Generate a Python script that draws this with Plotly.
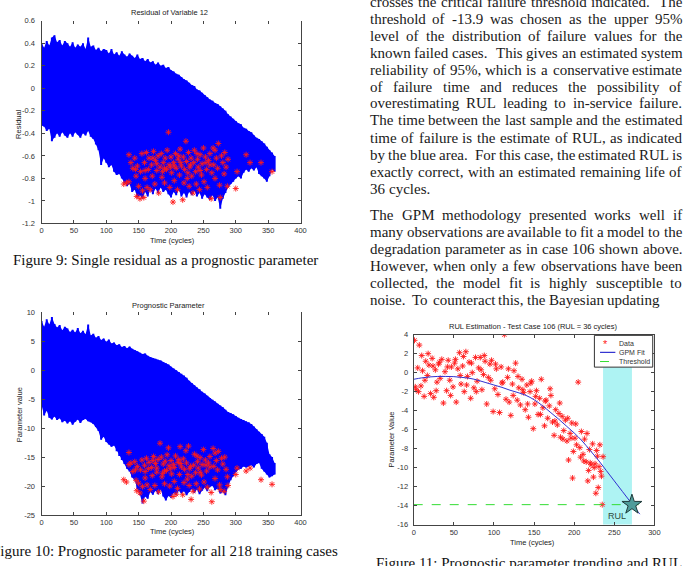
import re
import plotly.graph_objects as go

W, H = 695, 566


def px(x):
    return x / W


def py(y):
    return 1 - y / H


# ---------------- data: Figure 9 / Figure 10 (218 training cases) ----------------
env_cycles = [0, 4, 8, 12, 16, 20, 24, 28, 32, 36, 40, 44, 48, 52, 56, 60, 64, 68, 72, 76,
              80, 84, 88, 92, 96, 100, 104, 108, 112, 116, 120, 124, 128, 132, 136, 140, 144, 148, 152, 156,
              160, 164, 168, 172, 176, 180, 184, 188, 192, 196, 200, 204, 208, 212, 216, 220, 224, 228, 232, 236,
              240, 244, 248, 252, 256, 260, 264, 268, 272, 276, 280, 284, 288, 292, 296, 300, 304, 308, 312, 316,
              320, 324, 328, 332, 336, 340, 344, 348, 352, 356, 360]

residual_upper = [0.40, 0.36, 0.42, 0.38, 0.45, 0.47, 0.41, 0.43, 0.38, 0.42, 0.40, 0.37, 0.41, 0.36, 0.39, 0.37, 0.40, 0.35, 0.45, 0.37,
                  0.38, 0.34, 0.36, 0.33, 0.35, 0.34, 0.31, 0.35, 0.30, 0.32, 0.29, 0.33, 0.30, 0.28, 0.31, 0.29, 0.27, 0.30, 0.26, 0.27,
                  0.24, 0.26, 0.23, 0.24, 0.21, 0.23, 0.20, 0.21, 0.18, 0.19, 0.16, 0.15, 0.13, 0.12, 0.10, 0.08, 0.07, 0.05, 0.03, 0.02,
                  -0.01, -0.02, -0.04, -0.06, -0.08, -0.10, -0.11, -0.13, -0.14, -0.16, -0.18, -0.20, -0.23, -0.25, -0.27, -0.29, -0.31, -0.32, -0.35, -0.36,
                  -0.38, -0.39, -0.42, -0.44, -0.45, -0.47, -0.49, -0.52, -0.55, -0.57, -0.60]
residual_lower = [-0.33, -0.34, -0.38, -0.36, -0.47, -0.44, -0.40, -0.43, -0.39, -0.42, -0.44, -0.40, -0.43, -0.39, -0.41, -0.44, -0.40, -0.42, -0.38, -0.43,
                  -0.45, -0.50, -0.55, -0.68, -0.62, -0.66, -0.70, -0.68, -0.74, -0.77, -0.76, -0.80, -0.84, -0.87, -0.85, -0.92, -0.90, -0.97, -0.95, -0.98,
                  -0.92, -0.96, -0.90, -0.94, -0.89, -0.93, -0.88, -0.92, -0.90, -0.94, -0.97, -0.92, -0.95, -0.90, -0.96, -0.93, -0.97, -0.92, -0.95, -0.91,
                  -0.96, -0.93, -0.98, -0.94, -0.97, -0.99, -0.95, -1.00, -0.97, -1.07, -0.98, -0.93, -0.88, -0.85, -0.83, -0.80, -0.78, -0.80, -0.75, -0.72,
                  -0.74, -0.71, -0.73, -0.70, -0.76, -0.78, -0.80, -0.83, -0.78, -0.72, -0.74]

param_upper = [8.5, 7.5, 8.8, 7.9, 9.2, 8.0, 7.4, 7.8, 6.9, 7.5, 7.2, 6.6, 7.0, 6.5, 7.3, 6.4, 6.8, 6.2, 7.9, 6.0,
               6.3, 5.6, 5.9, 5.2, 5.5, 4.9, 5.3, 4.6, 4.8, 4.3, 4.5, 4.0, 4.2, 3.8, 4.1, 3.7, 3.5, 3.3, 3.0, 2.8,
               2.9, 2.5, 2.3, 2.1, 2.0, 1.8, 1.7, 1.4, 1.2, 1.0, 0.6, 0.3, 0.0, -0.3, -0.6, -0.9, -1.3, -1.8, -2.2, -2.6,
               -3.0, -3.3, -3.7, -4.0, -4.4, -4.8, -5.1, -5.4, -5.8, -6.1, -6.4, -6.8, -7.2, -7.4, -7.6, -7.9, -8.2, -8.4, -8.6, -8.8,
               -9.0, -9.3, -9.7, -10.2, -10.6, -11.0, -11.5, -12.5, -14.5, -15.0, -16.0]
param_lower = [-6.0, -7.8, -7.0, -8.2, -8.5, -8.0, -8.6, -8.3, -9.0, -8.7, -9.2, -8.8, -9.4, -8.9, -8.5, -9.1, -8.6, -8.4, -8.8, -9.0,
               -9.3, -9.8, -10.5, -12.0, -11.5, -12.4, -12.8, -13.2, -13.0, -14.0, -14.8, -15.5, -16.2, -17.0, -17.5, -18.5, -19.0, -20.5, -21.5, -23.0,
               -21.8, -22.2, -21.0, -21.5, -20.8, -21.4, -20.6, -21.8, -22.5, -21.7, -22.0, -21.2, -21.6, -20.8, -21.3, -20.9, -21.6, -21.0, -20.5, -21.2,
               -20.6, -21.4, -20.8, -20.3, -20.9, -20.1, -20.0, -20.7, -20.4, -21.3, -21.0, -21.6, -20.2, -19.0, -18.3, -17.6, -17.2, -17.0, -16.6, -16.8,
               -16.6, -16.4, -16.8, -16.2, -16.0, -17.0, -17.5, -18.0, -18.5, -18.3, -18.0]

failure_cycles = [127, 131, 135, 135, 138, 141, 144, 146, 147, 148, 150, 152, 153, 155, 156, 158, 159, 160, 162, 163,
                  165, 166, 168, 170, 171, 173, 175, 176, 178, 180, 181, 183, 185, 186, 188, 190, 191, 193, 194, 196,
                  197, 198, 200, 201, 203, 204, 205, 207, 208, 210, 211, 213, 214, 216, 218, 219, 220, 221, 223, 224,
                  225, 227, 228, 229, 231, 232, 234, 235, 236, 238, 239, 241, 242, 244, 245, 247, 248, 250, 251, 253,
                  255, 256, 258, 260, 262, 263, 265, 266, 268, 270, 272, 273, 275, 276, 278, 280, 282, 283, 285, 287,
                  288, 300, 302, 316, 322, 339, 356, 190, 205, 215, 230, 178, 245, 260, 145, 160, 172, 187, 199, 212,
                  226, 240, 254, 268]
failure_residual = [-0.85, -0.84, -0.83, -0.59, -0.66, -0.71, -0.62, -0.78, -0.96, -0.69, -0.87, -0.98, -0.74, -0.58, -0.91, -0.97, -0.66, -0.80, -0.57, -0.88,
                    -0.72, -0.62, -0.90, -0.68, -0.78, -0.56, -0.85, -0.64, -0.73, -0.60, -0.93, -0.70, -0.58, -0.79, -0.66, -0.84, -0.62, -0.72, -0.55, -0.39,
                    -0.68, -0.88, -0.61, -0.75, -1.01, -0.66, -0.82, -0.58, -0.71, -0.90, -0.63, -0.77, -0.54, -0.69, -0.99, -0.61, -0.84, -0.72, -0.47, -0.65,
                    -0.80, -0.57, -0.87, -0.70, -0.62, -0.78, -0.93, -0.66, -0.55, -0.74, -0.85, -0.63, -0.70, -0.90, -0.59, -0.77, -0.67, -0.53, -0.83, -0.61,
                    -0.72, -0.88, -0.64, -0.58, -0.98, -0.75, -0.53, -0.68, -0.80, -0.62, -0.71, -0.49, -0.86, -0.97, -0.60, -0.66, -0.76, -0.57, -0.70, -0.87,
                    -0.63, -0.89, -0.74, -0.59, -0.66, -0.66, -0.74, -0.71, -0.69, -0.66, -0.68, -0.67, -0.73, -0.68, -0.72, -0.73, -0.62, -0.74, -0.70, -0.60,
                    -0.75, -0.58, -0.66, -0.55]
failure_param = [-18.9, -19.3, -16.3, -14.2, -16.0, -17.5, -15.8, -19.0, -20.8, -16.6, -19.5, -21.2, -17.2, -15.5, -20.1, -22.6, -16.4, -18.6, -15.2, -19.8,
                 -17.0, -15.9, -20.6, -16.8, -18.2, -14.9, -19.9, -16.1, -17.6, -15.4, -21.0, -12.6, -15.0, -18.4, -16.2, -19.6, -15.7, -17.3, -14.6, -13.4,
                 -16.5, -20.0, -15.6, -17.9, -21.8, -16.3, -19.2, -14.8, -21.4, -20.4, -15.9, -18.0, -13.2, -16.7, -21.5, -15.3, -19.4, -17.1, -13.9, -16.0,
                 -18.8, -13.1, -19.9, -17.0, -22.3, -18.3, -20.9, -16.4, -14.5, -17.7, -19.6, -15.8, -16.9, -20.5, -15.1, -18.1, -16.3, -13.7, -19.3, -15.5,
                 -17.4, -20.2, -16.0, -14.9, -21.1, -22.7, -13.5, -16.6, -18.7, -15.6, -17.2, -14.0, -19.8, -20.6, -15.2, -16.2, -20.9, -15.0, -17.1, -18.4,
                 -19.9, -18.0, -16.9, -17.4, -16.9, -18.9, -19.7, -17.4, -16.8, -16.1, -16.6, -16.9, -17.6, -16.7, -17.2, -17.5, -15.6, -17.8, -17.0, -15.4,
                 -18.0, -14.8, -16.4, -14.3]

# ---------------- data: Figure 11 (test case 106) ----------------
case_cycles = [1, 3, 5, 7, 9, 11, 13, 15, 17, 19, 21, 23, 25, 27, 29, 31, 33, 35, 37, 39,
               41, 43, 45, 47, 49, 51, 53, 55, 57, 59, 61, 63, 65, 67, 69, 71, 73, 75, 77, 79,
               81, 83, 85, 87, 89, 91, 93, 95, 97, 99, 101, 103, 105, 107, 109, 111, 113, 115, 117, 119,
               121, 123, 125, 127, 129, 131, 133, 135, 137, 139, 141, 143, 145, 147, 149, 151, 153, 155, 157, 159,
               161, 163, 165, 167, 169, 171, 173, 175, 177, 179, 181, 183, 185, 187, 189, 191, 193, 195, 197, 199,
               201, 203, 205, 207, 209, 211, 213, 215, 217, 219, 221, 223, 225, 227, 229, 231, 233, 235,
               198, 236, 2, 6, 10, 14, 18, 24, 28, 32, 42, 46, 52, 58, 62, 66, 72, 78, 84, 88,
               96, 102, 110, 118, 124, 130, 136, 142, 146, 152, 158, 164, 170, 176, 182, 186, 192, 196, 202, 208,
               212, 216, 220, 224, 228, 232, 234, 226, 218, 230]
case_values = [3.4, -1.8, 0.5, 2.9, -1.4, 0.2, -2.5, 1.2, -0.3, 0.8, -2.2, 1.5, -2.6, 0.3, -1.0, 0.9, -0.6, 1.4, -3.2, 0.1,
               -1.9, 1.3, -0.8, 0.6, -1.5, 1.0, -3.1, 0.4, 2.1, -1.2, 0.7, -2.0, 2.2, -0.4, 1.1, -2.7, 0.0, -1.6, 1.6, -0.9,
               0.5, 1.6, -1.8, -0.2, 1.2, -3.3, -0.5, 0.9, 1.3, -4.1, -1.7, 0.4, -2.3, -4.2, 0.6, -1.0, 4.0, -2.8, -0.5, -3.1,
               -4.5, -1.2, 0.2, 1.0, -2.9, -1.6, -3.4, -0.7, -2.1, -3.9, -1.3, -4.7, -2.0, -0.9, -5.9, -3.3, -1.9, -4.4, -2.7, -0.7,
               -3.7, -5.6, -2.9, -4.8, -3.5, -2.4, -5.2, -6.6, -3.9, -5.5, -4.3, -6.8, -4.6, -6.1, -5.0, -7.2, -9.2, -6.4, -5.3, -8.3,
               -6.9, -7.6, -1.0, -7.9, -6.2, -8.6, -7.0, -9.4, -11.4, -8.1, -9.7, -7.5, -10.0, -12.7, -8.8, -9.9, -10.4, -13.9,
               -11.1, -8.85, -1.5, -2.0, 1.8, -0.8, 2.0, 0.7, -1.9, 1.1, 0.6, -2.4, 1.4, -0.3, 1.7, -1.3, 1.0, -2.0, 0.3, 1.8,
               -0.8, 0.9, -1.1, 0.4, -2.4, -0.4, -1.8, -3.3, -1.1, -2.5, -4.4, -3.0, -1.7, -5.1, -3.2, -7.0, -4.8, -6.9, -5.4, -8.9,
               -9.3, -6.4, -9.5, -11.0, -8.2, -7.6, -10.9, -9.6, -10.3, -12.1]

fit_cycles = [0, 10, 20, 30, 40, 50, 60, 70, 80, 90, 100, 110, 120, 130, 140, 150, 160, 170, 180, 190,
              200, 210, 220, 230, 240, 250, 260, 270, 280, 282]
fit_values = [-0.70, -0.55, -0.45, -0.40, -0.40, -0.42, -0.50, -0.60, -0.80, -1.05, -1.30, -1.55, -1.85, -2.10, -2.40,
              -2.85, -3.45, -4.15, -4.85, -5.60, -6.35, -7.20, -8.20, -9.20, -10.30, -11.40, -12.50, -13.60, -14.70, -14.90]

threshold_value = -13.9
threshold_span = [0, 282]
last_sample_cycle = 236
failure_cycle = 272
legend_labels = ["Data", "GPM Fit", "Threshold"]

# ---------------- styling helpers ----------------
AXFONT = dict(family="Liberation Sans, Arial, sans-serif", size=7.5, color="#333333")
SERIF = "Liberation Serif, Times New Roman, serif"
BLUE = "#0000ff"
RED = "#ff1a1a"
FIT_BLUE = "#3030d0"
THR_GREEN = "#33dd33"


def segments(xs, lo, hi):
    X, Y = [], []
    for x, a, b in zip(xs, lo, hi):
        X += [x, x, None]
        Y += [a, b, None]
    return X, Y


def band(xs, lo, hi):
    return list(xs) + list(xs)[::-1], list(hi) + list(lo)[::-1]


star_marker = dict(symbol="asterisk-open", size=5, color=RED, line=dict(color=RED, width=0.9))

fig = go.Figure()

# Fig 9
bx, by = band(env_cycles, residual_lower, residual_upper)
fig.add_trace(go.Scatter(x=bx, y=by, mode="lines", fill="toself", fillcolor=BLUE, line=dict(width=0, color=BLUE),
                         xaxis="x", yaxis="y", showlegend=False, hoverinfo="skip"))
sx, sy = segments(env_cycles, residual_lower, residual_upper)
fig.add_trace(go.Scatter(x=sx, y=sy, mode="lines", line=dict(color=BLUE, width=2),
                         xaxis="x", yaxis="y", showlegend=False, hoverinfo="skip"))
fig.add_trace(go.Scatter(x=failure_cycles, y=failure_residual, mode="markers", marker=star_marker,
                         xaxis="x", yaxis="y", showlegend=False))
fig.add_trace(go.Scatter(x=[None], y=[None], xaxis="x2", yaxis="y", showlegend=False, hoverinfo="skip"))

# Fig 10
bx, by = band(env_cycles, param_lower, param_upper)
fig.add_trace(go.Scatter(x=bx, y=by, mode="lines", fill="toself", fillcolor=BLUE, line=dict(width=0, color=BLUE),
                         xaxis="x3", yaxis="y3", showlegend=False, hoverinfo="skip"))
sx, sy = segments(env_cycles, param_lower, param_upper)
fig.add_trace(go.Scatter(x=sx, y=sy, mode="lines", line=dict(color=BLUE, width=2),
                         xaxis="x3", yaxis="y3", showlegend=False, hoverinfo="skip"))
fig.add_trace(go.Scatter(x=failure_cycles, y=failure_param, mode="markers", marker=star_marker,
                         xaxis="x3", yaxis="y3", showlegend=False))
fig.add_trace(go.Scatter(x=[None], y=[None], xaxis="x4", yaxis="y3", showlegend=False, hoverinfo="skip"))

# Fig 11
fig.add_shape(type="rect", xref="x5", yref="y5 domain", x0=last_sample_cycle, x1=failure_cycle,
              y0=0, y1=1, fillcolor="#aef3f3", line=dict(width=0), layer="below")
fig.add_trace(go.Scatter(x=case_cycles, y=case_values, mode="markers", name=legend_labels[0],
                         marker=star_marker, xaxis="x5", yaxis="y5", showlegend=False))
fig.add_trace(go.Scatter(x=fit_cycles, y=fit_values, mode="lines", name=legend_labels[1],
                         line=dict(color=FIT_BLUE, width=1, shape="spline"), xaxis="x5", yaxis="y5",
                         showlegend=False))
fig.add_trace(go.Scatter(x=threshold_span, y=[threshold_value, threshold_value], mode="lines",
                         name=legend_labels[2], line=dict(color=THR_GREEN, width=1, dash="dash"),
                         xaxis="x5", yaxis="y5", showlegend=False))
fig.add_trace(go.Scatter(x=[failure_cycle], y=[threshold_value], mode="markers", showlegend=False,
                         marker=dict(symbol="star", size=15, color="#4f9c9a", line=dict(color="#1f3a3a", width=1)),
                         xaxis="x5", yaxis="y5"))

common = dict(showgrid=False, zeroline=False, ticks="inside", ticklen=3, tickcolor="#444444",
              linecolor="#444444", linewidth=1, tickfont=AXFONT)

x_ticks = [0, 50, 100, 150, 200, 250, 300, 350, 400]
res_ticks = [-1.2, -1, -0.8, -0.6, -0.4, -0.2, 0, 0.2, 0.4, 0.6]
res_text = ["-1.2", "-1", "-0.8", "-0.6", "-0.4", "-0.2", "0", "0.2", "0.4", "0.6"]
par_ticks = [-25, -20, -15, -10, -5, 0, 5, 10]
par_text = ["-25", "-20", "-15", "-10", "-5", "0", "5", "10"]
c_xticks = [0, 50, 100, 150, 200, 250, 300]
c_yticks = [-16, -14, -12, -10, -8, -6, -4, -2, 0, 2, 4]
c_ytext = ["-16", "-14", "-12", "-10", "-8", "-6", "-4", "-2", "0", "2", "4"]

fig.update_layout(
    width=W, height=H, margin=dict(l=0, r=0, t=0, b=0),
    paper_bgcolor="white", plot_bgcolor="white", showlegend=False,
    xaxis=dict(common, domain=[px(40), px(302)], range=[0, 400], tickvals=x_ticks, anchor="y", showline=True),
    xaxis2=dict(common, overlaying="x", side="top", range=[0, 400], tickvals=x_ticks, anchor="y",
                showline=False, showticklabels=False),
    yaxis=dict(common, domain=[py(223), py(17)], range=[-1.2, 0.6], tickvals=res_ticks, ticktext=res_text,
               anchor="x", showline=True, mirror="ticks", ticklabelstandoff=4),
    xaxis3=dict(common, domain=[px(40), px(302)], range=[0, 400], tickvals=x_ticks, anchor="y3", showline=True),
    xaxis4=dict(common, overlaying="x3", side="top", range=[0, 400], tickvals=x_ticks, anchor="y3",
                showline=False, showticklabels=False),
    yaxis3=dict(common, domain=[py(519.3), py(313.3)], range=[-25, 10], tickvals=par_ticks, ticktext=par_text,
                anchor="x3", showline=True, mirror="ticks", ticklabelstandoff=4),
    xaxis5=dict(common, domain=[px(416.5), px(660)], range=[0, 300], tickvals=c_xticks, anchor="y5",
                showline=True, mirror="ticks"),
    yaxis5=dict(common, domain=[py(529), py(336)], range=[-16, 4], tickvals=c_yticks, ticktext=c_ytext,
                anchor="x5", showline=True, mirror="ticks", ticklabelstandoff=3),
)

# manual compact legend for Figure 11 (box, samples)
fig.add_shape(type="rect", xref="paper", yref="paper", x0=px(599.3), x1=px(658.3), y0=py(369), y1=py(336.7),
              fillcolor="white", line=dict(color="#333333", width=1), layer="above")
fig.add_shape(type="line", xref="paper", yref="paper", x0=px(605), x1=px(620.5), y0=py(354), y1=py(354),
              line=dict(color=FIT_BLUE, width=1.2), layer="above")
fig.add_shape(type="line", xref="paper", yref="paper", x0=px(605), x1=px(620.5), y0=py(363.3), y1=py(363.3),
              line=dict(color=THR_GREEN, width=1, dash="dash"), layer="above")

ann = []


def label(text, x, y, size=7.5, angle=0, family="Liberation Sans, Arial, sans-serif", color="#222222",
          anchor="center"):
    ann.append(dict(text=text, x=px(x), y=py(y), xref="paper", yref="paper", showarrow=False,
                    xanchor=anchor, yanchor="middle", textangle=angle, borderpad=0,
                    font=dict(family=family, size=size, color=color)))


label("*", 611, 346, size=11, color=RED)
label(legend_labels[0], 623, 345, size=7, anchor="left", color="#333")
label(legend_labels[1], 623, 354, size=7, anchor="left", color="#333")
label(legend_labels[2], 623, 363.3, size=7, anchor="left", color="#333")

# chart titles and axis labels
label("Residual of Variable 12", 169, 9)
label("Time (cycles)", 172, 240)
label("Residual", 16, 122, angle=-90)
label("Prognostic Parameter", 168, 306)
label("Time (cycles)", 172, 536)
label("Parameter value", 18, 417, angle=-90)
label("RUL Estimation - Test Case 106 (RUL = 36 cycles)", 537, 327.5)
label("Time (cycles)", 537, 547)
label("Parameter Value", 395, 442, angle=-90)
ann.append(dict(text="RUL", x=254, y=-15.1, xref="x5", yref="y5", showarrow=False,
                font=dict(family="Liberation Sans, Arial", size=9, color="#2f4a3a")))

# captions
label("Figure 9: Single residual as a prognostic parameter", 165, 260, size=15, family=SERIF, color="#111")
label("Figure 10: Prognostic parameter for all 218 training cases", 165, 555.5, size=15, family=SERIF, color="#111")
label("Figure 11: Prognostic parameter trending and RUL", 533, 568, size=15, family=SERIF, color="#111")

# body text (justified)
TIMES = {' ': 250, '!': 333, '%': 833, '(': 333, ')': 333, ',': 250, '-': 333, '.': 250, ':': 278, '=': 564,
         'A': 722, 'B': 667, 'C': 667, 'D': 722, 'E': 611, 'F': 556, 'G': 722, 'H': 722, 'I': 333, 'J': 389,
         'K': 722, 'L': 611, 'M': 889, 'N': 722, 'O': 722, 'P': 556, 'Q': 722, 'R': 667, 'S': 556, 'T': 611,
         'U': 722, 'V': 722, 'W': 944, 'X': 722, 'Y': 722, 'Z': 611,
         'a': 444, 'b': 500, 'c': 444, 'd': 500, 'e': 444, 'f': 333, 'g': 500, 'h': 500, 'i': 278, 'j': 278,
         'k': 500, 'l': 278, 'm': 778, 'n': 500, 'o': 500, 'p': 500, 'q': 500, 'r': 333, 's': 389, 't': 278,
         'u': 500, 'v': 500, 'w': 722, 'x': 500, 'y': 500, 'z': 444}
FS = 15


def tw(s):
    return sum(TIMES.get(c, 500) for c in s) / 1000 * FS


body_text = [
    "crosses the critical failure threshold indicated.  The",
    "threshold of -13.9 was chosen as the upper 95%",
    "level of the distribution of failure values for the",
    "known failed cases.  This gives an estimated system",
    "reliability of 95%, which is a conservative estimate",
    "of failure time and reduces the possibility of",
    "overestimating RUL leading to in-service failure.",
    "The time between the last sample and the estimated",
    "time of failure is the estimate of RUL, as indicated",
    "by the blue area.  For this case, the estimated RUL is",
    "exactly correct, with an estimated remaining life of",
    "36 cycles.",
    "The GPM methodology presented works well if",
    "many observations are available to fit a model to the",
    "degradation parameter as in case 106 shown above.",
    "However, when only a few observations have been",
    "collected, the model fit is highly susceptible to",
    "noise.  To counteract this, the Bayesian updating",
]
body_y = [-2.3, 15, 32.3, 49.7, 66.7, 84, 100.7, 118.3, 135.7, 153.3, 170.7, 187.7,
          214, 231.7, 249, 266, 283.7, 301]
body_justify = [True] * 11 + [False] + [True] * 5 + [False]
LEFT, RIGHT = 372.3, 687.7

for text, yc, just in zip(body_text, body_y, body_justify):
    parts = re.split(r"( +)", text)
    words = parts[0::2]
    gaps = [len(g) for g in parts[1::2]]
    wsum = sum(tw(w) for w in words)
    if just and gaps:
        unit = (RIGHT - LEFT - wsum) / sum(gaps)
    else:
        unit = tw(" ")
    xcur = LEFT
    for i, w in enumerate(words):
        ann.append(dict(text=w, x=px(xcur), y=py(yc), xref="paper", yref="paper", showarrow=False,
                        xanchor="left", yanchor="middle", borderpad=0, borderwidth=0,
                        font=dict(family=SERIF, size=FS, color="#1a1a1a")))
        xcur += tw(w)
        if i < len(gaps):
            xcur += unit * gaps[i]

fig.update_layout(annotations=ann)
fig.write_html("out.html")
